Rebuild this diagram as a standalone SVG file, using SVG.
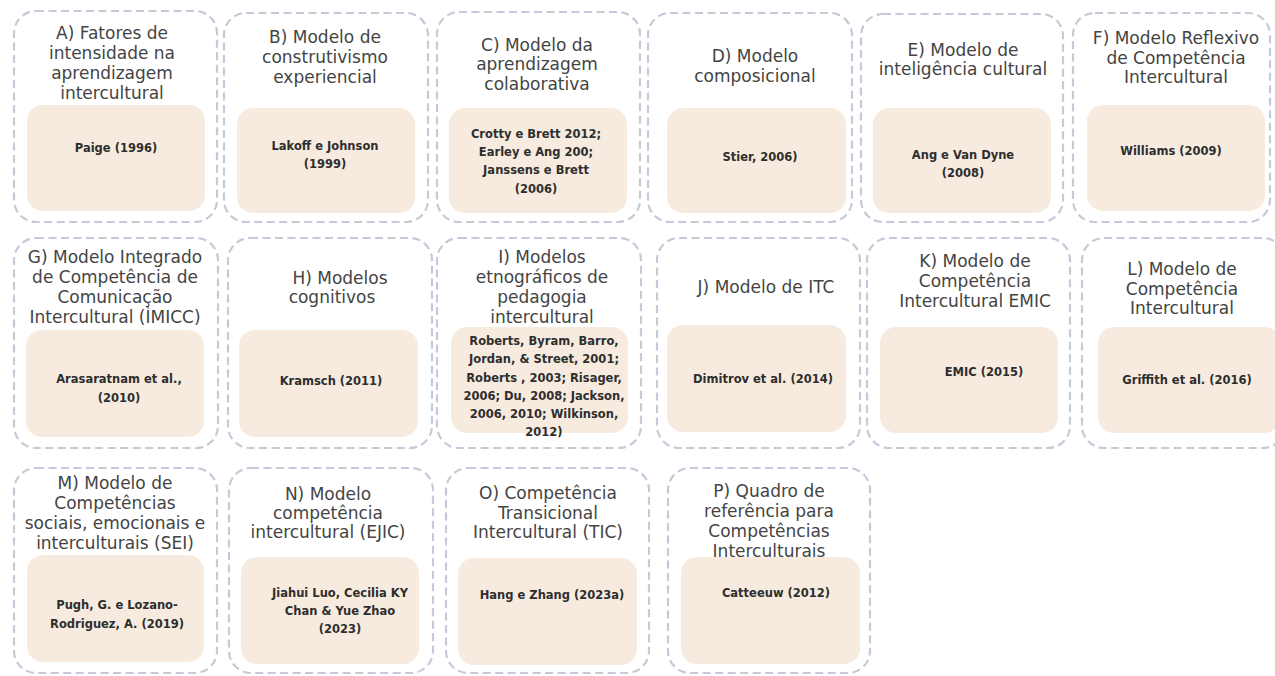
<svg xmlns="http://www.w3.org/2000/svg" width="1275" height="676" viewBox="0 0 1275 676">
<style>
.o{fill:#ffffff;stroke:#c5cad9;stroke-width:2.2;stroke-dasharray:8 4.5}
.i{fill:#f7ebdf;stroke:none}
.t{font-family:"DejaVu Sans",sans-serif;font-size:17px;fill:#444444;text-anchor:middle}
.c{font-family:"DejaVu Sans",sans-serif;font-size:11.5px;font-weight:bold;fill:#2e2e2e;text-anchor:middle}
</style>
<rect width="1275" height="676" fill="#ffffff"/>
<g id="connectors"></g>

<g id="nodeA">
<rect class="o" x="14" y="11" width="203" height="211" rx="22"/>
<rect class="i" x="27" y="105" width="178" height="106" rx="16"/>
<text class="t" x="112" y="39">A) Fatores de</text>
<text class="t" x="112" y="59">intensidade na</text>
<text class="t" x="112" y="79">aprendizagem</text>
<text class="t" x="112" y="99">intercultural</text>
<text class="c" x="116" y="152">Paige (1996)</text>
</g>

<g id="nodeB">
<rect class="o" x="224" y="13" width="204" height="209" rx="22"/>
<rect class="i" x="237" y="108" width="178" height="105" rx="16"/>
<text class="t" x="325" y="43">B) Modelo de</text>
<text class="t" x="325" y="63">construtivismo</text>
<text class="t" x="325" y="83">experiencial</text>
<text class="c" x="325" y="150">Lakoff e Johnson</text>
<text class="c" x="325" y="168">(1999)</text>
</g>

<g id="nodeC">
<rect class="o" x="437" y="12" width="203" height="210" rx="22"/>
<rect class="i" x="449" y="108" width="178" height="105" rx="16"/>
<text class="t" x="537" y="51">C) Modelo da</text>
<text class="t" x="537" y="70">aprendizagem</text>
<text class="t" x="537" y="90">colaborativa</text>
<text class="c" x="536" y="138">Crotty e Brett 2012;</text>
<text class="c" x="536" y="156">Earley e Ang 200;</text>
<text class="c" x="536" y="174">Janssens e Brett</text>
<text class="c" x="536" y="193">(2006)</text>
</g>

<g id="nodeD">
<rect class="o" x="648" y="13" width="204" height="209" rx="22"/>
<rect class="i" x="667" y="108" width="179" height="105" rx="16"/>
<text class="t" x="755" y="62">D) Modelo</text>
<text class="t" x="755" y="82">composicional</text>
<text class="c" x="760" y="161">Stier, 2006)</text>
</g>

<g id="nodeE">
<rect class="o" x="861" y="14" width="202" height="208" rx="22"/>
<rect class="i" x="873" y="108" width="178" height="105" rx="16"/>
<text class="t" x="963" y="56">E) Modelo de</text>
<text class="t" x="963" y="75">inteligência cultural</text>
<text class="c" x="963" y="159">Ang e Van Dyne</text>
<text class="c" x="963" y="177">(2008)</text>
</g>

<g id="nodeF">
<rect class="o" x="1073" y="13" width="197" height="209" rx="22"/>
<rect class="i" x="1087" y="105" width="178" height="106" rx="16"/>
<text class="t" x="1176" y="44">F) Modelo Reflexivo</text>
<text class="t" x="1176" y="64">de Competência</text>
<text class="t" x="1176" y="83">Intercultural</text>
<text class="c" x="1171" y="155">Williams (2009)</text>
</g>

<g id="nodeG">
<rect class="o" x="14" y="238" width="204" height="210" rx="22"/>
<rect class="i" x="26" y="330" width="178" height="107" rx="16"/>
<text class="t" x="115" y="263">G) Modelo Integrado</text>
<text class="t" x="115" y="283">de Competência de</text>
<text class="t" x="115" y="303">Comunicação</text>
<text class="t" x="115" y="323">Intercultural (ÌMICC)</text>
<text class="c" x="119" y="383">Arasaratnam et al.,</text>
<text class="c" x="119" y="402">(2010)</text>
</g>

<g id="nodeH">
<rect class="o" x="228" y="238" width="204" height="210" rx="22"/>
<rect class="i" x="239" y="330" width="179" height="107" rx="16"/>
<text class="t" x="340" y="284">H) Modelos</text>
<text class="t" x="332" y="303">cognitivos</text>
<text class="c" x="331" y="385">Kramsch (2011)</text>
</g>

<g id="nodeI">
<rect class="o" x="437" y="238" width="204" height="210" rx="22"/>
<rect class="i" x="451" y="327" width="177" height="106" rx="16"/>
<text class="t" x="542" y="263">I) Modelos</text>
<text class="t" x="542" y="283">etnográficos de</text>
<text class="t" x="542" y="303">pedagogia</text>
<text class="t" x="542" y="323">intercultural</text>
<text class="c" x="544" y="345">Roberts, Byram, Barro,</text>
<text class="c" x="544" y="363">Jordan, &amp; Street, 2001;</text>
<text class="c" x="544" y="382">Roberts , 2003; Risager,</text>
<text class="c" x="544" y="400">2006; Du, 2008; Jackson,</text>
<text class="c" x="544" y="418">2006, 2010; Wilkinson,</text>
<text class="c" x="544" y="436">2012)</text>
</g>

<g id="nodeJ">
<rect class="o" x="657" y="238" width="203" height="210" rx="22"/>
<rect class="i" x="667" y="325" width="179" height="107" rx="16"/>
<text class="t" x="766" y="293">J) Modelo de ITC</text>
<text class="c" x="763" y="383">Dimitrov et al. (2014)</text>
</g>

<g id="nodeK">
<rect class="o" x="867" y="238" width="203" height="210" rx="22"/>
<rect class="i" x="880" y="327" width="178" height="106" rx="16"/>
<text class="t" x="975" y="267">K) Modelo de</text>
<text class="t" x="975" y="287">Competência</text>
<text class="t" x="975" y="307">Intercultural EMIC</text>
<text class="c" x="984" y="376">EMIC (2015)</text>
</g>

<g id="nodeL">
<rect class="o" x="1082" y="238" width="203" height="210" rx="22"/>
<rect class="i" x="1098" y="327" width="182" height="106" rx="16"/>
<text class="t" x="1182" y="275">L) Modelo de</text>
<text class="t" x="1182" y="295">Competência</text>
<text class="t" x="1182" y="314">Intercultural</text>
<text class="c" x="1187" y="384">Griffith et al. (2016)</text>
</g>

<g id="nodeM">
<rect class="o" x="14" y="468" width="203" height="205" rx="22"/>
<rect class="i" x="27" y="555" width="177" height="107" rx="16"/>
<text class="t" x="115" y="489">M) Modelo de</text>
<text class="t" x="115" y="509">Competências</text>
<text class="t" x="115" y="529">sociais, emocionais e</text>
<text class="t" x="115" y="549">interculturais (SEI)</text>
<text class="c" x="117" y="609">Pugh, G. e Lozano-</text>
<text class="c" x="117" y="628">Rodriguez, A. (2019)</text>
</g>

<g id="nodeN">
<rect class="o" x="229" y="468" width="204" height="205" rx="22"/>
<rect class="i" x="241" y="557" width="178" height="107" rx="16"/>
<text class="t" x="328" y="500">N) Modelo</text>
<text class="t" x="328" y="519">competência</text>
<text class="t" x="328" y="538">intercultural (EJIC)</text>
<text class="c" x="340" y="597">Jiahui Luo, Cecilia KY</text>
<text class="c" x="340" y="615">Chan &amp; Yue Zhao</text>
<text class="c" x="340" y="633">(2023)</text>
</g>

<g id="nodeO">
<rect class="o" x="446" y="468" width="203" height="205" rx="22"/>
<rect class="i" x="458" y="558" width="179" height="107" rx="16"/>
<text class="t" x="548" y="499">O) Competência</text>
<text class="t" x="548" y="519">Transicional</text>
<text class="t" x="548" y="538">Intercultural (TIC)</text>
<text class="c" x="552" y="599">Hang e Zhang (2023a)</text>
</g>

<g id="nodeP">
<rect class="o" x="668" y="468" width="202" height="205" rx="22"/>
<rect class="i" x="681" y="557" width="179" height="107" rx="16"/>
<text class="t" x="769" y="497">P) Quadro de</text>
<text class="t" x="769" y="517">referência para</text>
<text class="t" x="769" y="537">Competências</text>
<text class="t" x="769" y="557">Interculturais</text>
<text class="c" x="776" y="597">Catteeuw (2012)</text>
</g>
</svg>
